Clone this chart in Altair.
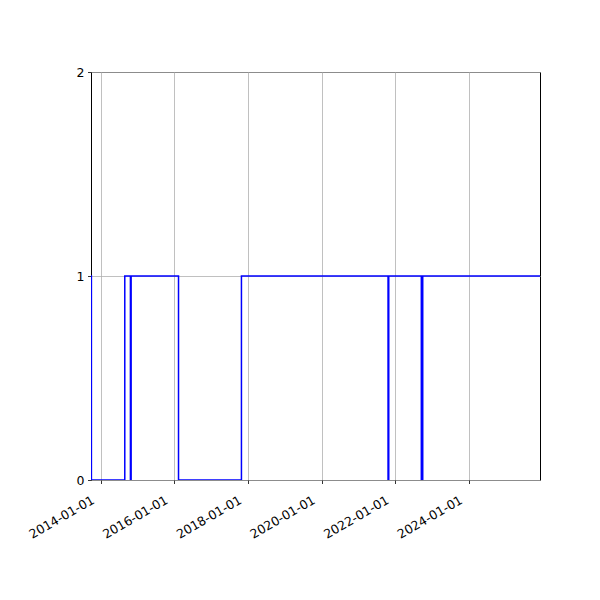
import altair as alt
import pandas as pd

# step-series breakpoints (value holds until next date)
dates = ["2013-09-26", "2013-09-30", "2014-08-27", "2014-10-22", "2014-10-29",
         "2016-02-11", "2017-10-27", "2021-10-20", "2021-10-27",
         "2022-09-15", "2022-09-29", "2025-12-05"]
values = [1, 0, 1, 0, 1, 0, 1, 0, 1, 0, 1, 1]

x_ticks = ["2014-01-01", "2016-01-01", "2018-01-01", "2020-01-01", "2022-01-01", "2024-01-01"]
x_domain = ["2013-09-26", "2025-12-05"]
y_ticks = [0, 1, 2]


def dt(s):
    y, m, d = (int(p) for p in s.split("-"))
    return alt.DateTime(year=y, month=m, date=d, utc=True)


df = pd.DataFrame({"date": dates, "value": values})

chart = alt.Chart(df).mark_line(
    interpolate="step-after", color="#0000ff", strokeWidth=1.5, clip=True
).encode(
    x=alt.X("date:T",
            scale=alt.Scale(type="utc", domain=[dt(s) for s in x_domain], nice=False),
            axis=alt.Axis(values=[dt(s) for s in x_ticks], format="%Y-%m-%d",
                          title=None, labelAngle=330,
                          labelAlign="right", labelBaseline="top", labelOffset=-11,
                          labelPadding=10, labelOverlap=False, labelFlush=False,
                          labelBound=False, labelLimit=300)),
    y=alt.Y("value:Q",
            scale=alt.Scale(domain=[0, 2], nice=False, zero=False),
            axis=alt.Axis(values=y_ticks, format=".0f", title=None, labelPadding=3.5,
                          labelOverlap=False, labelFlush=False)),
).properties(
    width=449,
    height=408,
    autosize=alt.AutoSizeParams(type="none"),
    padding={"left": 83, "top": 64, "right": 30, "bottom": 90},
).configure_view(
    stroke="black", strokeWidth=1
).configure_axis(
    domain=False,
    grid=True,
    gridColor="#b0b0b0",
    gridWidth=0.8,
    tickColor="black",
    tickWidth=0.8,
    tickSize=3.5,
    labelColor="black",
    labelFont="DejaVu Sans",
    labelFontSize=12.5,
)

chart.save("out.html", embed_options={"renderer": "svg", "actions": False})
